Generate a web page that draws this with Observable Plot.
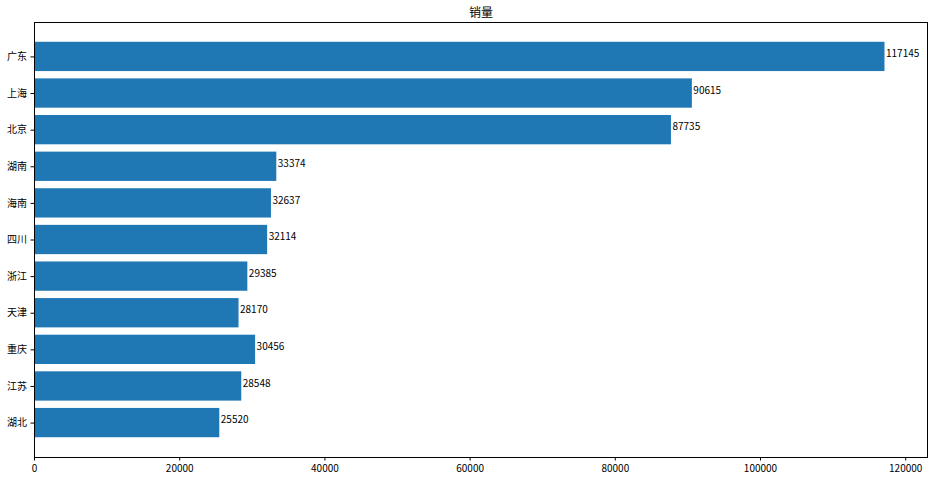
<!DOCTYPE html>
<html><head><meta charset="utf-8">
<script src="https://cdn.jsdelivr.net/npm/d3@7"></script>
<script src="https://cdn.jsdelivr.net/npm/@observablehq/plot@0.6"></script>
<style>body{margin:0;background:#fff;}svg{display:block;}</style>
</head><body><div id="chart"></div>
<script>
const provinces = ["广东","上海","北京","湖南","海南","四川","浙江","天津","重庆","江苏","湖北"];
const sales = [117145,90615,87735,33374,32637,32114,29385,28170,30456,28548,25520];
const title = "销量";
const xTicks = [0,20000,40000,60000,80000,100000,120000];

const data = provinces.map((p,i)=>({p, v: sales[i]}));
const font = "'Noto Sans CJK SC', 'DejaVu Sans', sans-serif";

const chart = Plot.plot({
  width: 934, height: 479,
  marginLeft: 34, marginRight: 7, marginTop: 22, marginBottom: 22,
  style: {fontFamily: font, fontSize: "10px", color: "#000", background: "#fff"},
  x: {domain: [0, d3.max(sales)*1.05], ticks: xTicks, tickFormat: d => String(d), tickSize: 3.5, tickPadding: 4, label: null},
  y: {domain: provinces, paddingInner: 0.2, paddingOuter: 0.54, round: false, tickSize: 3.5, tickPadding: 4, label: null},
  marks: [
    Plot.barX(data, {x: "v", y: "p", fill: "#1f77b4"}),
    Plot.text(data, {x: "v", y: "p", text: d => String(d.v), textAnchor: "start", dx: 1, dy: -3, fill: "#000", fontSize: 10}),
    Plot.frame({stroke: "#000", strokeWidth: 1}),
    Plot.text([title], {frameAnchor: "top", lineAnchor: "middle", dy: -9.5, fontSize: 12, fill: "#000"})
  ]
});
document.getElementById("chart").appendChild(chart);
</script>
</body></html>
